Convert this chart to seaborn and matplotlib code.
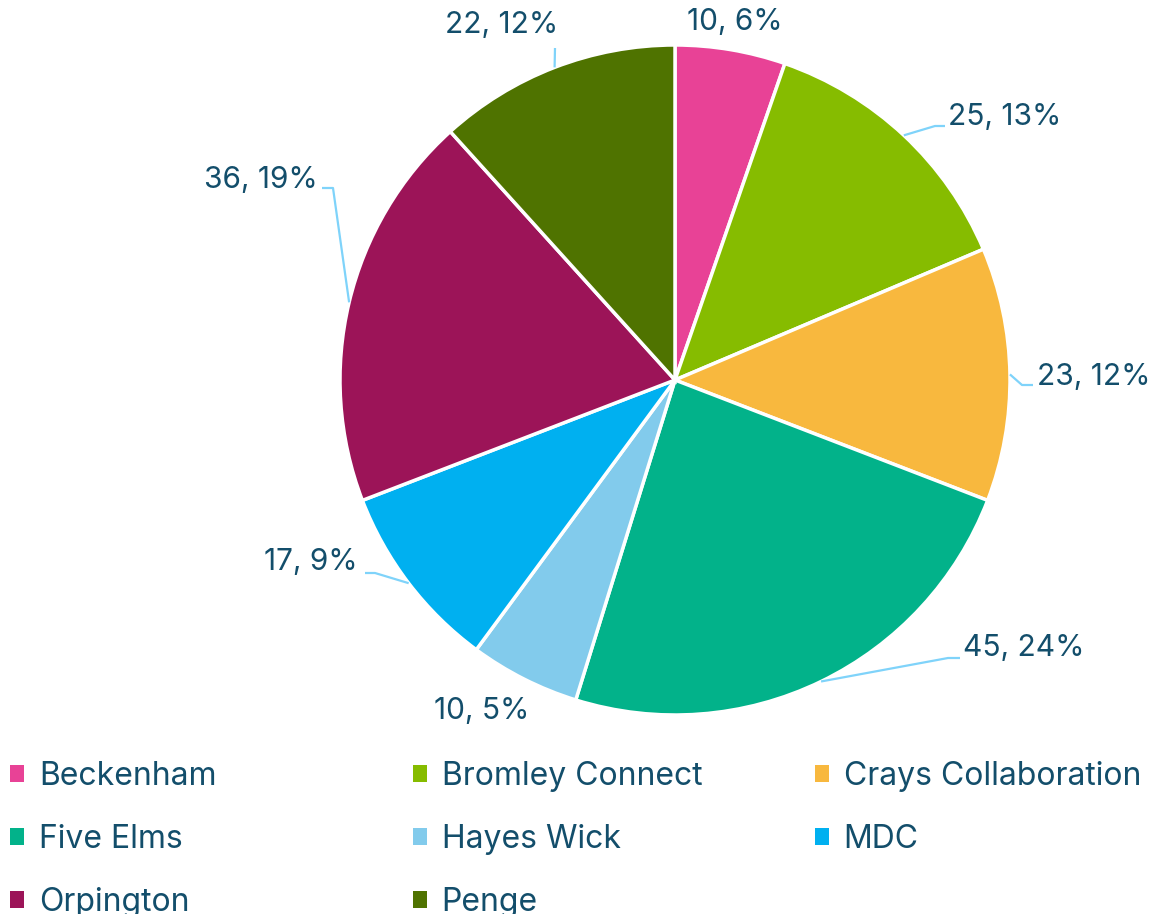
import matplotlib.pyplot as plt
import numpy as np
import seaborn as sns
from matplotlib.patches import Patch

# data
groups = ["Beckenham", "Bromley Connect", "Crays Collaboration", "Five Elms",
          "Hayes Wick", "MDC", "Orpington", "Penge"]
counts = [10, 25, 23, 45, 10, 17, 36, 22]
pct_labels = ["6%", "13%", "12%", "24%", "5%", "9%", "19%", "12%"]
colors = ["#E84296", "#86BC00", "#F8B83E", "#02B28A",
          "#82CBEC", "#00B0F0", "#9C1458", "#4F7300"]

TEXT = "#134E6B"
LINE = "#7FD3FA"

sns.set_theme(style="white")
plt.rcParams["font.family"] = ["Inter", "DejaVu Sans"]

W, H = 1171, 914
fig = plt.figure(figsize=(W / 100, H / 100), dpi=100)
# axes in pixel units, pie centred at (675, 380) from top-left
cx, cy = 675, 380
ax = fig.add_axes([0, 0, 1, 1])
R = 335

wedges, _ = ax.pie(counts, colors=colors, startangle=90, counterclock=False,
                   radius=R, center=(0, 0),
                   wedgeprops=dict(edgecolor="white", linewidth=2.5))
ax.set_xlim(-cx, W - cx)
ax.set_ylim(-(H - cy), cy)
ax.set_aspect("equal")
ax.axis("off")

# label layout: text position (px from centre, y up), alignment, elbow point
layout = [
    dict(xy=(60, 358), ha="center", elbow=None),
    dict(xy=(273, 263), ha="left", elbow=[(260, 254), (270, 254)]),
    dict(xy=(362, 3), ha="left", elbow=[(347, -5), (358, -5)]),
    dict(xy=(288, -268), ha="left", elbow=[(273, -278), (285, -278)]),
    dict(xy=(-193, -331), ha="center", elbow=None),
    dict(xy=(-317, -182), ha="right", elbow=[(-300, -193), (-310, -193)]),
    dict(xy=(-357, 200), ha="right", elbow=[(-342, 192), (-353, 192)]),
    dict(xy=(-117, 355), ha="right", elbow=[(-120, 332)]),
]

for w, n, p, lay in zip(wedges, counts, pct_labels, layout):
    mid = np.deg2rad((w.theta1 + w.theta2) / 2)
    if lay["elbow"] is not None:
        edge = (R * np.cos(mid), R * np.sin(mid))
        pts = [edge] + lay["elbow"]
        ax.plot([q[0] for q in pts], [q[1] for q in pts], color=LINE, lw=1.6,
                solid_capstyle="butt", zorder=1)
    ax.text(lay["xy"][0], lay["xy"][1], f"{n}, {p}", ha=lay["ha"], va="center",
            fontsize=21.5, color=TEXT)

# legend: three columns, row-major order
handles = [Patch(facecolor=c, edgecolor="none") for c in colors]
col_x = [10, 413, 815]
for i, x in enumerate(col_x):
    leg = fig.legend(handles[i::3], groups[i::3], loc="upper left",
                     bbox_to_anchor=(x / W, 1 - 761 / H), frameon=False,
                     fontsize=23, handlelength=0.45, handleheight=0.45,
                     handletextpad=0.45, borderpad=0, borderaxespad=0,
                     labelspacing=1.0)
    for t in leg.get_texts():
        t.set_color(TEXT)

fig.savefig("out.png", dpi=100)
